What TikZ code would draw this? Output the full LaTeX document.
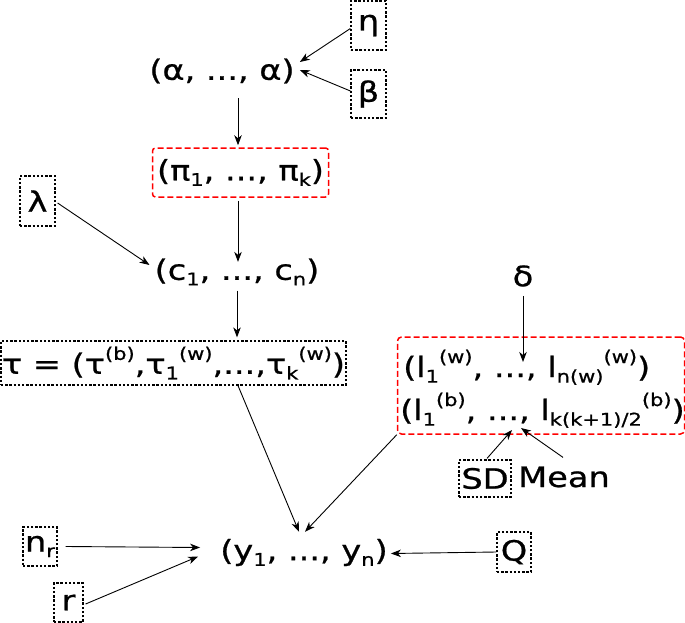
\documentclass[tikz,border=0pt]{standalone}
\usepackage{fontspec}
\setmainfont[FakeStretch=1.2,FakeBold=0.8]{DejaVu Sans}
\usetikzlibrary{arrows.meta,calc}
\newcommand\dn[1]{\raisebox{-0.2em}{\fontsize{17.5}{17.5}\selectfont #1}}
\newcommand\up[1]{\raisebox{0.5em}{\fontsize{17.5}{17.5}\selectfont #1}}
\begin{document}
\begin{tikzpicture}[x=1pt,y=-1pt,
  every node/.style={font=\fontsize{28}{34}\selectfont, inner sep=0pt},
  pbox/.style={draw, line width=1.2pt, dash pattern=on 2.4pt off 1.8pt},
  rbox/.style={draw=red, line width=1.5pt, dash pattern=on 6pt off 3pt, rounded corners=3pt},
  arr/.style={-{Stealth[length=10pt,width=7.5pt,inset=3pt]}, line width=0.9pt}]
\useasboundingbox (0,0) rectangle (685,623);
\node[pbox, minimum width=35pt, minimum height=49pt] (eta) at (368.5,25.5) {η};
\node[pbox, minimum width=35pt, minimum height=48pt] (beta) at (368.5,94) {β};
\node (alpha) at (222,71) {(α, ..., α)};
\node[rbox, minimum width=176pt, minimum height=49pt] (pi) at (240.5,172.5) {(π\dn{1}, ..., π\dn{k})};
\node[pbox, minimum width=35pt, minimum height=50pt] (lambda) at (37.5,201) {λ};
\node (c) at (237,272) {(c\dn{1}, ..., c\dn{n})};
\node[pbox, minimum width=345pt, minimum height=44pt] (tau) at (173.5,363) {τ = (τ\up{(b)},τ\dn{1}\up{(w)},...,τ\dn{k}\up{(w)})};
\node[rbox, rounded corners=4pt, minimum width=287pt, minimum height=97pt] (lbox) at (541,385.5) {};
\node[anchor=base west] (lw) at (403,377) {(l\dn{1}\up{(w)}, ..., l\dn{n(w)}\up{(w)})};
\node[anchor=base west] (lb) at (400,420) {(l\dn{1}\up{(b)}, ..., l\dn{k(k+1)/2}\up{(b)})};
\node (delta) at (523,276) {δ};
\coordinate (dtip) at (523,362);
\node[pbox, minimum width=52pt, minimum height=37pt] (sd) at (485,478.5) {SD};
\node (mean) at (564,477) {Mean};
\coordinate (sdtip) at (512,430);
\coordinate (meantip) at (521,428);
\node (y) at (304,552.5) {(y\dn{1}, ..., y\dn{n})};
\node[pbox, minimum width=34pt, minimum height=39pt] (nr) at (40,546.5) {n\dn{r}};
\node[pbox, minimum width=29pt, minimum height=39pt] (r) at (68.5,602.5) {r};
\node[pbox, minimum width=34pt, minimum height=40pt] (Q) at (514,552) {Q};
\draw[arr] ($(eta.west)+(0,3)$) -- ($(alpha.east)+(5,-9)$);
\draw[arr] ($(beta.west)+(0,-3)$) -- ($(alpha.east)+(5,-1)$);
\draw[arr] ($(alpha.south)+(16,14.5)$) -- ($(pi.north)+(-2.5,-2)$);
\draw[arr] ($(pi.south)+(-2.5,3)$) -- ($(c.north)+(1,3.5)$);
\draw[arr] ($(lambda.east)+(2,2)$) -- ($(c.west)+(-5,-7)$);
\draw[arr] ($(c.south)+(0,5)$) -- ($(c.south |- tau.north)+(0,-3)$);
\draw[arr] ($(tau.south)+(64.5,0)$) -- ($(y.north)+(-5,-7)$);
\draw[arr] (lbox.south west) -- ($(y.north)+(1,-7)$);
\draw[arr] ($(nr.east)+(8,0)$) -- ($(y.west)+(-20,-5)$);
\draw[arr] ($(r.east)+(2,1.5)$) -- ($(y.west)+(-22,4)$);
\draw[arr] (Q.west) -- ($(y.east)+(3,1)$);
\draw[arr] ($(delta.south)+(0,9)$) -- (dtip);
\draw[arr] ($(sd.north)+(2,-1)$) -- (sdtip);
\draw[arr] ($(mean.north)+(-1,-9)$) -- (meantip);
\end{tikzpicture}
\end{document}
